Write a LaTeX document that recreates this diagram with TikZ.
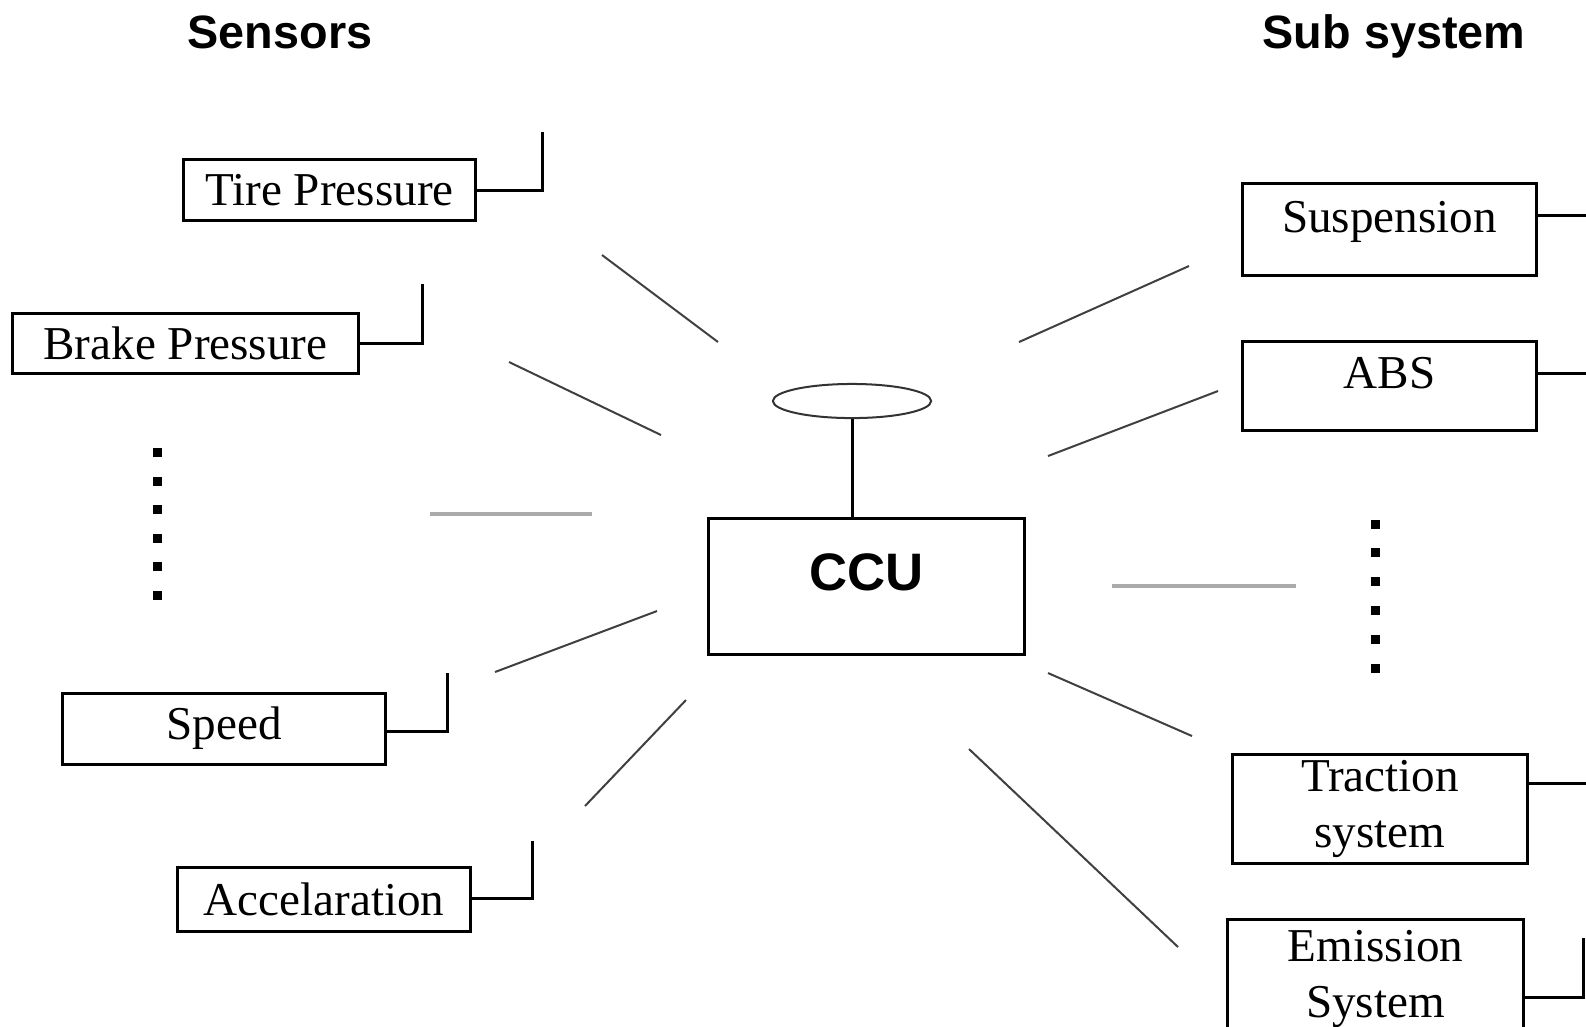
\documentclass[tikz,border=0pt]{standalone}
\usepackage{fontspec}
\setmainfont{Liberation Serif}
\newfontfamily\headfont{Liberation Sans}
\usetikzlibrary{shapes.geometric}

\newcommand{\boxfont}{\fontsize{13.4}{15.8}\selectfont}
\newcommand{\titlefont}{\headfont\bfseries\fontsize{13.3}{15}\selectfont}

\tikzset{
    box/.style={draw, line width=0.85pt, inner ysep=0pt, font=\boxfont, align=center},
    spoke/.style={line width=0.57pt, black!75},
    wire/.style={line width=0.85pt},
    gap/.style={line width=1.4pt, black!33}
}

\begin{document}
\begin{tikzpicture}[x=0.01cm, y=-0.01cm]
    \useasboundingbox (0,0) rectangle (1586,1026);
    \clip (0,0) rectangle (1586,1026);

    % draw titles
    \node[font=\titlefont, anchor=base] (sensors) at (280,48) {Sensors};
    \node[font=\titlefont, anchor=base] (subsys) at (1394,48) {Sub system};

    % draw sensor boxes
    \node[box, minimum width=82.8pt, minimum height=17.6pt] (tire) at (329.5,190) {Tire Pressure};
    \node[box, minimum width=98.2pt, minimum height=16.8pt] (brake) at (185.5,343.5) {Brake Pressure};
    \node[box, minimum width=91.6pt, minimum height=20.2pt] (speed) at (224,728.5) {Speed};
    \node[box, minimum width=83.1pt, minimum height=18.2pt] (accel) at (324,899) {Accelaration};

    % draw sub system boxes
    \node[box, minimum width=83.4pt, text height=13.9pt, text depth=12.5pt, anchor=base] (susp) at (1389.5,232) {Suspension};
    \node[box, minimum width=83.4pt, text height=13.1pt, text depth=12.2pt, anchor=base] (abs) at (1389.5,388) {ABS};
    \node[box, minimum width=83.7pt, minimum height=31pt] (traction) at (1380,809) {Traction\\system};
    \node[box, minimum width=84pt, minimum height=33.8pt, anchor=north] (emission) at (1375.5,918) {Emission\\System};

    % draw ccu and antenna
    \node[draw, line width=0.85pt, minimum width=89.6pt, inner ysep=0pt, text height=20.2pt, text depth=18.2pt,
          anchor=base, font=\headfont\bfseries\fontsize{15}{18}\selectfont] (ccu) at (866.5,590) {CCU};
    \node[draw, ellipse, line width=0.57pt, black!80, minimum width=45pt, minimum height=9.7pt, inner sep=0pt] (antenna) at (852,401) {};
    \draw[wire] (antenna.south) -- (antenna.south |- ccu.north);

    % draw sensor wires
    \coordinate (tireend) at (542,132);
    \coordinate (brakeend) at (422,284);
    \coordinate (speedend) at (447,673);
    \coordinate (accelend) at (532,841);
    \draw[wire] (tire.east) -| (tireend);
    \draw[wire] (brake.east) -| (brakeend);
    \draw[wire] (speed.east |- 0,731) -| (speedend);
    \draw[wire] (accel.east |- 0,898) -| (accelend);

    % draw sub system wires
    \coordinate (suspend) at (1586,215);
    \coordinate (absend) at (1586,373);
    \coordinate (tractionend) at (1586,783);
    \coordinate (emissionend) at (1583,938);
    \draw[wire] (susp.east |- suspend) -- (suspend);
    \draw[wire] (abs.east |- absend) -- (absend);
    \draw[wire] (traction.east |- tractionend) -- (tractionend);
    \draw[wire] (emission.east |- 0,997) -| (emissionend);

    % draw spokes
    \foreach \xa/\ya/\xb/\yb in {602/255/718/342, 509/362/661/435, 495/672/657/611, 585/806/686/700,
                                 1019/342/1189/266, 1048/456/1218/391, 1048/673/1192/736, 969/749/1178/947}
    \draw[spoke] (\xa,\ya) -- (\xb,\yb);
    \draw[gap] (430,514) -- (592,514);
    \draw[gap] (1112,586) -- (1296,586);

    % draw dots
    \foreach \i in {0,...,5} {
        \fill (157-4.5,452.7+28.5*\i-4.5) rectangle ++(9,9);
        \fill (1375-4.5,524+28.8*\i-4.5) rectangle ++(9,9);
    }
\end{tikzpicture}
\end{document}
